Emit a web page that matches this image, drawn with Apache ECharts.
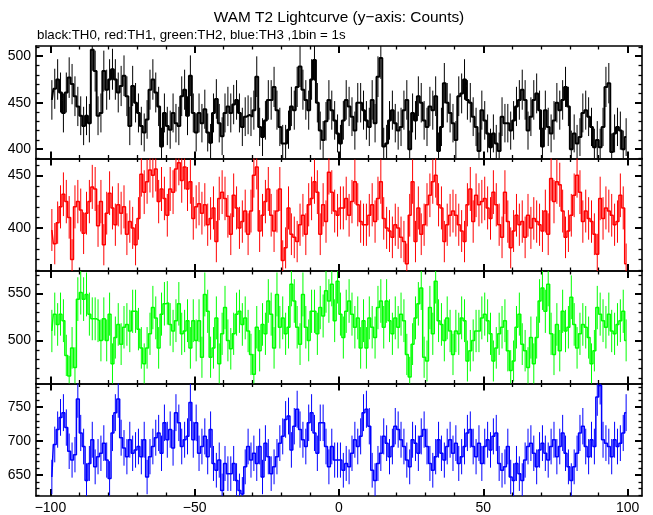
<!DOCTYPE html>
<html><head><meta charset="utf-8">
<script src="https://cdn.jsdelivr.net/npm/echarts@6/dist/echarts.min.js"></script>
<style>html,body{margin:0;background:#fff}#c{width:653px;height:515px}</style>
</head><body><div id="c"></div>
<script>
// Counts per 1 s bin, bins from -100 s to +100 s
const binStart = -100;
const binWidth = 1;
const th0 = [
453,465,475,461,439,461,477,470,457,446,
436,425,436,428,507,484,436,439,484,464,
475,486,475,461,468,479,457,425,468,450,
439,425,418,432,464,475,461,446,403,439,
425,421,439,428,425,457,464,436,479,439,
418,439,428,443,418,407,439,454,428,414,
439,446,439,448,453,439,424,435,437,435,
442,478,424,413,431,453,453,467,442,424,
406,406,421,446,442,467,489,464,453,442,
475,496,450,420,410,430,453,442,431,417,
406,431,453,446,435,420,450,450,442,431,
424,453,428,478,498,403,406,431,442,428,
420,424,442,453,400,439,431,457,450,431,
424,446,442,457,398,424,471,450,439,428,
410,457,460,475,453,450,435,424,398,442,
431,417,402,417,406,398,435,428,428,420,
431,446,453,464,453,420,435,453,460,442,
403,442,424,417,431,450,442,453,467,446,
400,417,406,413,439,442,435,424,402,410,
402,424,467,471,397,417,424,420,400,413];
const th1 = [
398,385,405,420,432,425,410,370,420,425,
417,395,414,425,439,437,402,425,384,414,
433,419,403,422,414,420,394,406,400,384,
409,451,434,444,455,450,456,425,437,428,
412,437,434,456,462,445,458,437,444,409,
420,423,414,422,403,409,419,387,428,434,
428,411,394,431,419,400,406,416,394,416,
450,458,397,412,425,437,412,397,416,437,
369,381,419,394,391,387,403,412,394,422,
428,444,434,394,422,406,453,434,416,412,
419,419,428,412,425,444,422,406,403,403,
412,422,406,428,444,409,400,397,391,403,
400,391,387,366,412,444,387,419,394,403,
422,431,444,450,422,419,387,403,412,416,
412,403,397,387,422,437,406,431,422,425,
428,419,409,434,422,403,391,434,406,381,
397,412,403,406,391,412,400,409,406,403,
397,416,394,447,425,444,441,416,391,397,
412,431,450,434,406,416,409,406,394,375,
428,409,419,416,412,403,406,431,419,366];
const th2 = [
510,528,517,528,521,484,462,492,471,544,
551,544,549,528,523,523,521,500,523,500,
528,475,503,517,496,514,517,510,531,531,
512,492,475,492,507,535,524,492,528,539,
540,517,510,521,539,507,510,521,492,521,
500,521,482,549,531,482,492,524,475,507,
535,500,491,507,528,531,517,524,510,485,
464,514,489,517,507,542,528,492,549,514,
524,507,514,560,542,514,496,549,514,500,
531,531,507,535,526,553,542,560,521,563,
528,503,531,542,528,514,524,492,521,492,
524,514,503,535,542,514,542,521,507,524,
514,528,521,485,461,496,524,539,556,482,
478,535,507,563,521,517,500,524,510,485,
510,507,524,521,478,489,500,510,510,524,
528,521,507,478,492,507,514,521,489,468,
478,514,528,496,489,471,503,475,503,542,
556,531,560,507,485,517,489,531,510,514,
546,517,492,507,517,514,503,475,489,535,
528,521,514,528,510,507,517,521,531,500];
const th3 = [
647,695,717,735,742,720,685,672,680,762,
712,692,642,667,702,662,677,682,697,672,
645,712,742,762,705,690,677,702,682,687,
692,677,702,647,677,692,705,712,682,727,
702,717,690,742,727,692,702,707,757,702,
727,682,692,707,677,717,667,657,672,627,
667,652,652,667,642,627,622,662,692,672,
682,667,692,647,697,677,652,662,677,697,
707,732,737,687,722,747,717,702,692,727,
742,712,682,727,727,692,662,692,672,672,
672,657,667,662,682,702,692,707,742,747,
722,657,642,667,682,707,697,677,692,722,
717,702,692,672,662,702,697,682,707,717,
692,667,657,677,702,682,672,692,702,682,
697,667,677,692,712,717,692,677,697,667,
692,702,687,707,712,667,657,662,692,647,
642,667,652,642,672,692,697,682,662,687,
697,682,672,692,702,677,692,712,682,662,
642,662,682,712,722,692,677,702,692,765,
782,702,697,692,677,702,692,697,712,742];

const seriesList = [th0, th1, th2, th3];
const seriesNames = ['TH0', 'TH1', 'TH2', 'TH3'];
const seriesColors = ['#000000', '#ff0000', '#00ff00', '#0000ff'];
const xMajorTicks = [-100, -50, 0, 50, 100];
const xMinorTicks = [-90, -80, -70, -60, -40, -30, -20, -10, 10, 20, 30, 40, 60, 70, 80, 90];
const yMajorTicks = [[400, 450, 500], [400, 450], [500, 550], [650, 700, 750]];
const yMinorTicks = [
  [390, 410, 420, 430, 440, 460, 470, 480, 490, 510],
  [360, 370, 380, 390, 410, 420, 430, 440, 460],
  [460, 470, 480, 490, 510, 520, 530, 540, 560, 570],
  [620, 630, 640, 660, 670, 680, 690, 710, 720, 730, 740, 760, 770, 780]
];
const yRanges = [[390, 511], [359, 466], [454, 574], [619, 785]];
const xRange = [-105, 105];
const titleText = 'WAM T2 Lightcurve (y\u2212axis: Counts)';
const subText = 'black:TH0, red:TH1, green:TH2, blue:TH3 ,1bin = 1s';

const FONT = '"Liberation Sans", Arial, Helvetica, sans-serif';
const gridTop = 46, panelH = 112.5, gridLeft = 36, gridRight = 11;
const fmt = v => String(v).replace('-', '\u2212');
const stepWidths = [2, 1.5, 1.5, 1.5];

const grids = [], xAxes = [], yAxes = [], series = [];
seriesList.forEach((vals, p) => {
  grids.push({left: gridLeft, right: gridRight, top: gridTop + p * panelH, height: panelH});
  const lineOn = {show: true, onZero: false, lineStyle: {color: '#000', width: 1.6}};
  const lineOff = {show: false, onZero: false};
  const mkX = (pos, ticks, len, label, line) => ({
    type: 'value', gridIndex: p, position: pos, min: xRange[0], max: xRange[1],
    axisLine: line ? lineOn : lineOff,
    axisTick: {show: true, inside: true, length: len, customValues: ticks, lineStyle: {color: '#000', width: len > 4 ? 2 : 1.3}},
    axisLabel: label ? {show: true, customValues: xMajorTicks, formatter: fmt, color: '#000', fontFamily: FONT, fontSize: 14, margin: 5} : {show: false},
    splitLine: {show: false}
  });
  const xi = xAxes.length;
  xAxes.push(mkX('bottom', xMajorTicks, 7, p === 3, true));
  xAxes.push(mkX('bottom', xMinorTicks, 3.5, false, false));
  xAxes.push(mkX('top', xMajorTicks, 7, false, true));
  xAxes.push(mkX('top', xMinorTicks, 3.5, false, false));
  const mkY = (pos, ticks, len, label, line) => ({
    type: 'value', gridIndex: p, position: pos, min: yRanges[p][0], max: yRanges[p][1],
    axisLine: line ? lineOn : lineOff,
    axisTick: {show: true, inside: true, length: len, customValues: ticks, lineStyle: {color: '#000', width: len > 4 ? 2 : 1.3}},
    axisLabel: label ? {show: true, customValues: yMajorTicks[p], color: '#000', fontFamily: FONT, fontSize: 14, margin: 5} : {show: false},
    splitLine: {show: false}
  });
  const yi = yAxes.length;
  yAxes.push(mkY('left', yMajorTicks[p], 7, true, true));
  yAxes.push(mkY('left', yMinorTicks[p], 3.5, false, false));
  yAxes.push(mkY('right', yMajorTicks[p], 7, false, true));
  yAxes.push(mkY('right', yMinorTicks[p], 3.5, false, false));

  const color = seriesColors[p];
  const pts = vals.map((v, i) => [binStart + (i + 0.5) * binWidth, v]);
  const ymin = yRanges[p][0], ymax = yRanges[p][1];
  series.push({
    name: seriesNames[p] + ' err', type: 'custom', xAxisIndex: xi, yAxisIndex: yi,
    data: vals.map((v, i) => [pts[i][0], v - Math.sqrt(v), v + Math.sqrt(v)]),
    encode: {x: 0, y: [1, 2]},
    renderItem: (params, api) => {
      const x = api.value(0);
      const lo = Math.max(api.value(1), ymin), hi = Math.min(api.value(2), ymax);
      const a = api.coord([x, lo]), b = api.coord([x, hi]);
      return {type: 'line', shape: {x1: a[0], y1: a[1], x2: b[0], y2: b[1]}, style: {stroke: color, lineWidth: 1}};
    },
    silent: true, animation: false
  });
  series.push({
    name: seriesNames[p], type: 'line', xAxisIndex: xi, yAxisIndex: yi,
    data: pts, step: 'middle', symbol: 'none', clip: true,
    lineStyle: {color: color, width: stepWidths[p]}, itemStyle: {color: color},
    silent: true, animation: false
  });
});

const chart = echarts.init(document.getElementById('c'), null, {renderer: 'canvas'});
chart.setOption({
  backgroundColor: '#fff',
  animation: false,
  grid: grids, xAxis: xAxes, yAxis: yAxes, series: series,
  graphic: [
    {type: 'text', x: 339, y: 18, style: {text: titleText, textAlign: 'center', textVerticalAlign: 'middle', font: '15.4px ' + FONT, fill: '#000'}},
    {type: 'text', x: 37, y: 35, style: {text: subText, textAlign: 'left', textVerticalAlign: 'middle', font: '13.3px ' + FONT, fill: '#000'}}
  ]
});
</script></body></html>
